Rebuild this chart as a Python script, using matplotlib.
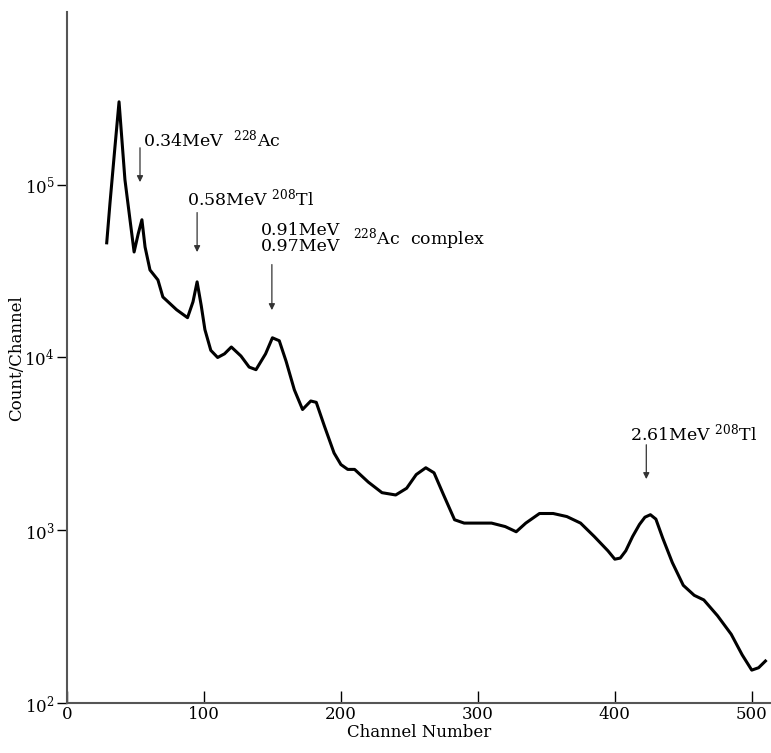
import numpy as np
import matplotlib.pyplot as plt

plt.rcParams['font.family'] = ['DejaVu Serif']
plt.rcParams['mathtext.fontset'] = 'dejavuserif'

# spectrum
channel = [29, 31.4, 35, 38, 42.3, 46, 49, 52, 54.7, 57, 60.6, 66.4, 70, 80, 88, 92, 95, 98,
           100.7, 105, 110, 115, 120, 127, 133, 138, 145, 150, 155, 160, 166, 172, 178, 182,
           188, 195, 200, 205, 210, 220, 230, 240, 248, 255, 262, 268, 275, 283, 290, 300,
           310, 320, 328, 335, 345, 355, 365, 375, 385, 395, 400, 404, 408, 413, 418, 422,
           426, 430, 435, 442, 450, 458, 465, 475, 485, 493, 500, 505, 510]
counts = [46100, 78500, 165000, 302000, 107000, 62700, 40800, 52000, 62700, 43600, 32100,
          28100, 22400, 18900, 17000, 21000, 27400, 20000,
          14500, 11000, 10000, 10500, 11500, 10200, 8800, 8500, 10500, 13000, 12500, 9500,
          6500, 5000, 5600, 5500, 4000, 2800, 2400, 2250, 2250, 1900, 1650, 1600, 1750,
          2100, 2300, 2150, 1600, 1150, 1100, 1100, 1100, 1050, 980, 1100, 1250, 1250, 1200,
          1100, 920, 760, 680, 690, 760, 920, 1080, 1190,
          1230, 1160, 900, 650, 480, 420, 395, 320, 250, 190, 155, 160, 175]

# peak labels
labels = ['0.34MeV  $^{228}$Ac', '0.58MeV $^{208}$Tl', '0.91MeV\n0.97MeV', '2.61MeV $^{208}$Tl']
label_pos = [(55.5, 10**5.26), (87.6, 10**4.918), (141.6, 10**4.687), (411, 10**3.563)]
arrow_x = [53.3, 95, 149.6, 423]
arrow_top = [10**5.23, 10**4.855, 10**4.554, 10**3.511]
arrow_tip = [10**4.999, 10**4.594, 10**4.258, 10**3.28]

fig = plt.figure(figsize=(7.71, 7.53), dpi=100)
ax = fig.add_axes([0.0869, 0.0664, 0.913, 0.9177])

ax.plot(channel, counts, color='black', lw=2.2, solid_joinstyle='round')

ax.set_yscale('log')
ax.set_xlim(0, 514)
ax.set_ylim(1e2, 1e6)
ax.set_xticks([0, 100, 200, 300, 400, 500])
ax.set_yticks([1e2, 1e3, 1e4, 1e5])
ax.minorticks_off()
ax.tick_params(axis='x', direction='in', length=9, width=1, labelsize=12, pad=2)
ax.tick_params(axis='y', direction='out', length=7, width=1, labelsize=12, pad=2)
for s in ['top', 'right']:
    ax.spines[s].set_visible(False)
for s in ['left', 'bottom']:
    ax.spines[s].set_color('#555555')
    ax.spines[s].set_linewidth(1.5)

ax.set_xlabel('Channel Number', fontsize=12, labelpad=1)
fig.text(0.021, 0.525, 'Count/Channel', fontsize=12, rotation=90, ha='center', va='center')

for txt, (x, y) in zip(labels, label_pos):
    ax.text(x, y, txt, fontsize=12.5, ha='left', va='center', linespacing=0.95)
ax.text(208.8, 10**4.687, '$^{228}$Ac  complex', fontsize=12.5, ha='left', va='center')

for x, y0, y1 in zip(arrow_x, arrow_top, arrow_tip):
    ax.annotate('', xy=(x, y1), xytext=(x, y0),
                arrowprops=dict(arrowstyle='-|>', color='#333333', lw=0.9, mutation_scale=9))

fig.savefig('out.png', dpi=100)
